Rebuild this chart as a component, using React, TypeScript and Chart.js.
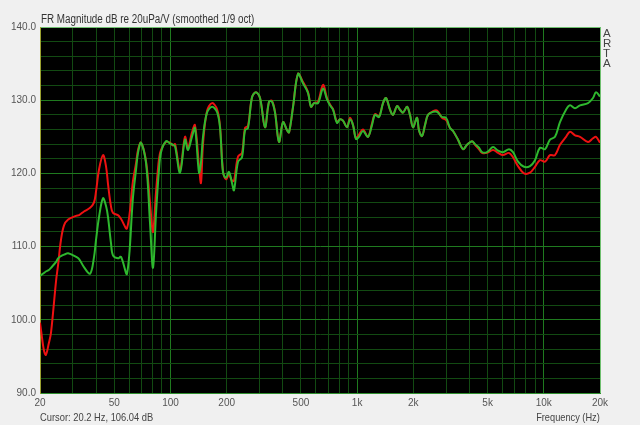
import React, { useEffect, useRef } from "react";
import { Chart, registerables } from "chart.js";

Chart.register(...registerables);

const FREQ_HZ = [
  20, 20.25, 21.0, 21.5, 22.3, 22.9, 24.4, 25.0, 25.9, 26.9, 28.3, 31.2, 32.4, 34.4, 37.1, 38.9, 39.9,
  41.4, 43.5, 45.2, 46.3, 48.0, 49.2, 52.3, 54.3, 58.5, 63.0, 65.4, 67.0, 69.5, 74.0, 77.7, 80.6,
  83.7, 86.8, 89.0, 94.6, 99.4, 103.2, 105.8, 112.5, 119.6, 124.1, 130.4, 135.3, 142.2, 145.7,
  149.4, 156.9, 166.9, 177.5, 184.2, 191.2, 198.4, 205.8, 213.6, 218.9, 230.1, 241.6, 250.8, 260.2,
  273.4, 287.2, 301.8, 320.9, 337.2, 350.0, 363.1, 381.4, 400.8, 421.1, 431.6, 453.5, 482.2, 512.8,
  545.4, 566.0, 587.4, 617.2, 656.4, 689.5, 715.4, 742.4, 779.9, 809.3, 839.9, 882.5, 915.9, 950.4,
  985.9, 1023, 1075, 1143, 1201, 1246, 1310, 1376, 1428, 1500, 1557, 1635, 1697, 1761, 1850, 1919,
  1992, 2092, 2144, 2226, 2310, 2397, 2550, 2679, 2849, 2993, 3145, 3264, 3471, 3692, 3879, 4125,
  4280, 4497, 4666, 4963, 5344, 5683, 6044, 6510, 6839, 7274, 7832, 8434, 8970, 9540, 10148, 10792,
  11480, 12210, 13150, 13816, 14694, 15630, 17250, 18348, 19038, 20000,
];

const RED_DB = [
  99.6, 98.6, 95.8, 95.2, 96.8, 98.2, 105.4, 107.5, 110.9, 112.9, 113.7, 114.2, 114.3, 114.8, 115.3, 116.0, 117.5,
  120.5, 122.5, 120.9, 118.5, 115.5, 114.6, 114.3, 113.8, 112.5, 119.0, 121.4, 123.2, 124.2, 121.6, 116.0, 112.0,
  117.5, 122.0, 123.2, 124.3, 124.2, 123.8, 124.0, 120.5, 125.0, 123.5, 125.6, 126.6, 121.0, 118.7,
  124.0, 128.5, 129.6, 128.8, 126.5, 120.3, 119.2, 119.8, 119.0, 119.0, 122.3, 122.8, 126.2, 126.5,
  130.4, 131.1, 130.3, 126.3, 129.8, 129.9, 128.4, 124.3, 127.0, 125.9, 125.6, 129.1, 133.6, 132.5,
  131.1, 129.1, 129.6, 129.8, 132.1, 130.3, 129.4, 128.8, 127.0, 127.4, 127.2, 126.3, 127.6, 126.6,
  124.8, 125.3, 126.0, 125.0, 126.8, 128.1, 127.8, 129.6, 130.3, 128.7, 128.0, 129.2, 128.7, 128.3, 129.1, 128.0,
  126.3, 127.6, 125.9, 125.1, 126.6, 128.0, 128.5, 128.6, 127.6, 127.3, 126.2, 125.8, 124.6, 123.3, 123.9, 124.4,
  123.9, 123.3, 122.8, 122.8, 123.2, 122.8, 122.5, 122.8, 122.2, 121.0, 120.0, 120.1, 120.9, 121.8, 121.6, 122.5,
  122.5, 123.9, 125.0, 125.7, 125.2, 125.0, 124.3, 124.8, 125.0, 124.2,
];

const GREEN_DB = [
  106.0, 106.1, 106.4, 106.6, 106.8, 107.1, 107.9, 108.4, 108.7, 108.9, 109.1, 108.6, 108.3, 107.2, 106.3, 108.5, 110.9,
  114.0, 116.6, 115.5, 114.0, 110.5, 108.8, 108.4, 108.6, 106.3, 116.8, 120.5, 122.8, 124.2, 121.4, 113.2, 107.1,
  114.6, 120.5, 122.9, 124.4, 124.1, 123.9, 123.7, 120.1, 124.6, 123.2, 125.0, 126.2, 120.1, 121.5,
  125.0, 128.3, 129.1, 128.4, 126.3, 120.1, 119.4, 120.2, 118.7, 117.7, 121.6, 122.2, 125.9, 126.2,
  130.4, 131.1, 130.3, 126.3, 129.8, 129.8, 128.3, 124.3, 127.0, 125.9, 125.6, 129.1, 133.6, 132.3,
  131.0, 129.1, 129.6, 129.6, 131.6, 130.1, 129.3, 128.7, 126.9, 127.4, 127.2, 126.3, 127.4, 126.6,
  124.7, 125.0, 125.8, 125.0, 126.6, 128.0, 127.7, 129.6, 130.3, 128.7, 128.0, 129.2, 128.7, 128.3, 129.1, 128.0,
  126.3, 127.6, 125.9, 125.1, 126.6, 128.0, 128.4, 128.4, 127.7, 127.6, 126.2, 125.8, 124.6, 123.3, 123.9, 124.4,
  124.0, 123.5, 122.9, 122.9, 123.6, 123.1, 122.9, 123.3, 122.9, 121.6, 120.9, 121.0, 121.8, 123.5, 123.3, 124.6,
  125.0, 127.0, 128.7, 129.3, 128.9, 129.3, 129.6, 130.3, 131.1, 130.5,
];

const X_GRID = [
  20, 30, 40, 50, 60, 70, 80, 90, 100, 200, 300, 400, 500, 600, 700, 800, 900, 1000,
  2000, 3000, 4000, 5000, 6000, 7000, 8000, 9000, 10000, 20000,
];
const X_LABELS: Record<number, string> = {
  20: "20", 50: "50", 100: "100", 200: "200", 500: "500",
  1000: "1k", 2000: "2k", 5000: "5k", 10000: "10k", 20000: "20k",
};
const X_MAJOR = [100, 1000, 10000];

const TITLE = "FR Magnitude dB re 20uPa/V (smoothed 1/9 oct)";
const CURSOR_TEXT = "Cursor: 20.2 Hz, 106.04 dB";
const X_TITLE = "Frequency (Hz)";
const BRAND = ["A", "R", "T", "A"];

const FONT = "'Liberation Sans', Arial, sans-serif";

export default function App() {
  const ref = useRef<HTMLCanvasElement | null>(null);

  useEffect(() => {
    if (!ref.current) return;
    const blackArea = {
      id: "blackArea",
      beforeDraw(chart: any) {
        const { ctx, chartArea } = chart;
        ctx.save();
        ctx.fillStyle = "#000000";
        ctx.fillRect(chartArea.left, chartArea.top, chartArea.right - chartArea.left, chartArea.bottom - chartArea.top);
        ctx.restore();
      },
    };
    const chart = new Chart(ref.current, {
      type: "line",
      data: {
        labels: FREQ_HZ,
        datasets: [
          {
            label: "green",
            data: FREQ_HZ.map((f, i) => ({ x: f, y: GREEN_DB[i] })),
            borderColor: "#2eb82e",
            borderWidth: 2,
            pointRadius: 0,
            tension: 0.35,
            fill: false,
          },
          {
            label: "red",
            data: FREQ_HZ.map((f, i) => ({ x: f, y: RED_DB[i] })),
            borderColor: "#ee1111",
            borderWidth: 2,
            pointRadius: 0,
            tension: 0.35,
            fill: false,
          },
        ],
      },
      options: {
        responsive: false,
        animation: false,
        events: [],
        layout: { padding: { top: 27, right: 40, left: 0, bottom: 0 } },
        plugins: { legend: { display: false }, tooltip: { enabled: false }, title: { display: false } },
        scales: {
          x: {
            type: "logarithmic",
            min: 20,
            max: 20000,
            afterFit: (s: any) => { s.height = 32; },
            afterBuildTicks: (s: any) => { s.ticks = X_GRID.map((v) => ({ value: v })); },
            ticks: {
              autoSkip: false,
              maxRotation: 0,
              padding: 4,
              color: "#555555",
              font: { family: FONT, size: 10 },
              callback: (v: any) => X_LABELS[Number(v)] ?? "",
            },
            grid: {
              drawTicks: false,
              color: (c: any) => {
                const v = c.tick?.value;
                if (v === 20000) return "#6fbf6f";
                if (X_MAJOR.includes(v)) return "#1f7a1f";
                return "#124a12";
              },
            },
            border: { display: true, color: "#2f8f2f", width: 1 },
          },
          y: {
            min: 90,
            max: 140,
            afterFit: (s: any) => { s.width = 40; },
            ticks: {
              stepSize: 2,
              autoSkip: false,
              padding: 4,
              color: "#555555",
              font: { family: FONT, size: 10 },
              callback: (v: any) => (Number(v) % 10 === 0 ? Number(v).toFixed(1) : ""),
            },
            grid: {
              drawTicks: false,
              color: (c: any) => {
                const v = c.tick?.value;
                if (v === 140) return "#6fbf6f";
                if (v % 10 === 0) return "#1f7a1f";
                return "#124a12";
              },
            },
            border: { display: true, color: "#9aa030", width: 1 },
          },
        },
      },
      plugins: [blackArea],
    } as any);
    return () => chart.destroy();
  }, []);

  const txt: React.CSSProperties = {
    position: "absolute",
    fontFamily: FONT,
    fontSize: 12,
    color: "#333333",
    whiteSpace: "nowrap",
    lineHeight: "14px",
  };

  return (
    <div style={{ position: "fixed", left: 0, top: 0, width: 640, height: 425, background: "#f0f0f0", overflow: "hidden" }}>
      <canvas ref={ref} width={640} height={425} style={{ position: "absolute", left: 0, top: 0, width: 640, height: 425 }} />
      <div style={{ ...txt, left: 41, top: 12, transform: "scaleX(0.82)", transformOrigin: "0 0" }}>{TITLE}</div>
      {BRAND.map((ch, i) => (
        <div key={i} style={{ ...txt, left: 603, top: 26 + i * 10, fontSize: 11.5, color: "#444444" }}>{ch}</div>
      ))}
      <div style={{ ...txt, left: 40, top: 410, fontSize: 11, color: "#444444", transform: "scaleX(0.85)", transformOrigin: "0 0" }}>{CURSOR_TEXT}</div>
      <div style={{ ...txt, right: 40, top: 410, fontSize: 11, color: "#444444", transform: "scaleX(0.84)", transformOrigin: "100% 0" }}>{X_TITLE}</div>
    </div>
  );
}
